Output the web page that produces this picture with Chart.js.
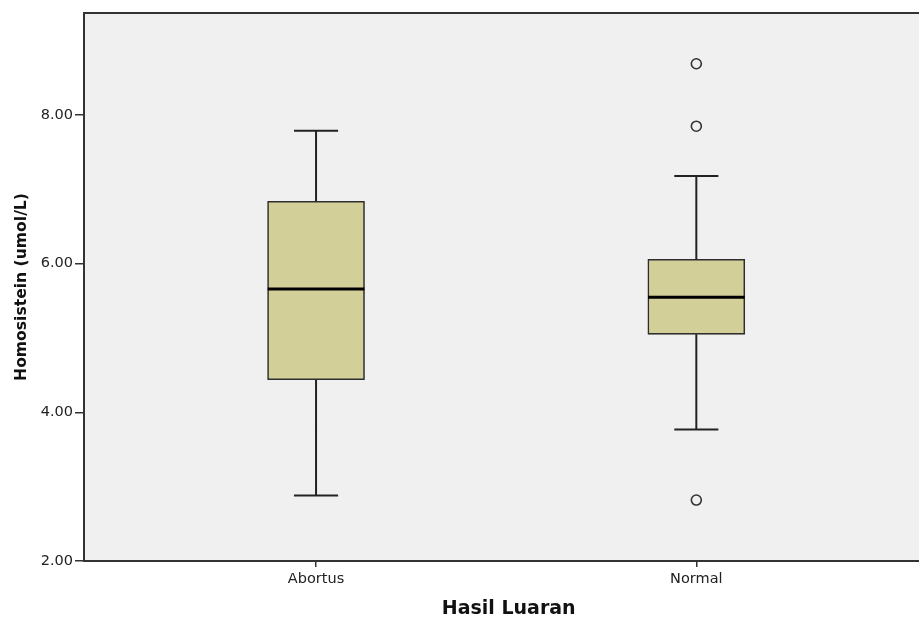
<!DOCTYPE html>
<html>
<head>
<meta charset="utf-8">
<script src="https://cdn.jsdelivr.net/npm/chart.js@4.4.0/dist/chart.umd.min.js"></script>
<style>
  html, body { margin: 0; padding: 0; background: #ffffff; overflow: hidden; }
  #wrap { width: 919px; height: 619px; overflow: hidden; position: relative; }
  canvas { display: block; }
</style>
</head>
<body>
<div id="wrap"><canvas id="chart" width="940" height="619"></canvas></div>
<script>
// Box plot summary per group (Homosistein, umol/L)
const categories  = ['Abortus', 'Normal'];
const whiskerLow  = [2.88, 3.77];
const q1          = [4.44, 5.05];
const median      = [5.66, 5.55];
const q3          = [6.84, 6.06];
const whiskerHigh = [7.79, 7.18];

// Outliers: group index and value
const outlierGroup  = [1, 1, 1];
const outlierValues = [8.69, 7.85, 2.82];

// Value axis tick labels
const yTicks = [2, 4, 6, 8];

// Drawing constants (in x-axis units, one unit per group)
const BOX_HALF = 0.127;
const CAP_HALF = 0.058;
const X_MIN = -0.6102;
const X_MAX = 1.6234;
const Y_MIN = 2;
const Y_MAX = 9.373;

const boxData = categories.map((_, i) => ({ x: i, y: [q1[i], q3[i]] }));

const whiskerData = [];
categories.forEach((_, i) => {
  whiskerData.push(
    { x: i, y: q3[i] }, { x: i, y: whiskerHigh[i] }, { x: i, y: null },
    { x: i - CAP_HALF, y: whiskerHigh[i] }, { x: i + CAP_HALF, y: whiskerHigh[i] }, { x: i, y: null },
    { x: i, y: q1[i] }, { x: i, y: whiskerLow[i] }, { x: i, y: null },
    { x: i - CAP_HALF, y: whiskerLow[i] }, { x: i + CAP_HALF, y: whiskerLow[i] }, { x: i, y: null }
  );
});

const medianData = [];
categories.forEach((_, i) => {
  medianData.push({ x: i - BOX_HALF, y: median[i] }, { x: i + BOX_HALF, y: median[i] }, { x: i, y: null });
});

const outlierData = outlierValues.map((v, k) => ({ x: outlierGroup[k], y: v }));

// Plot background and frame
const framePlugin = {
  id: 'frame',
  beforeDraw(chart) {
    const { ctx, chartArea: a } = chart;
    ctx.save();
    ctx.fillStyle = '#f0f0f0';
    ctx.fillRect(a.left, a.top, a.right - a.left, a.bottom - a.top);
    ctx.restore();
  },
  afterDraw(chart) {
    const { ctx, chartArea: a } = chart;
    ctx.save();
    ctx.strokeStyle = '#333333';
    ctx.lineWidth = 2;
    ctx.strokeRect(a.left, a.top, a.right - a.left, a.bottom - a.top);
    ctx.restore();
  }
};

new Chart(document.getElementById('chart'), {
  type: 'bar',
  data: {
    datasets: [
      {
        type: 'bar',
        data: boxData,
        backgroundColor: '#d3cf98',
        borderColor: '#2e2e2e',
        borderWidth: 1.6,
        borderSkipped: false,
        barThickness: 97,
        order: 3
      },
      {
        type: 'line',
        data: whiskerData,
        borderColor: '#222222',
        borderWidth: 2,
        pointRadius: 0,
        spanGaps: false,
        fill: false,
        order: 2
      },
      {
        type: 'line',
        data: medianData,
        borderColor: '#000000',
        borderWidth: 3,
        pointRadius: 0,
        spanGaps: false,
        fill: false,
        order: 1
      },
      {
        type: 'scatter',
        data: outlierData,
        pointRadius: 5,
        pointBackgroundColor: 'rgba(0,0,0,0)',
        pointBorderColor: '#333333',
        pointBorderWidth: 1.6,
        order: 0
      }
    ]
  },
  options: {
    responsive: false,
    animation: false,
    devicePixelRatio: 1,
    layout: { padding: { top: 13, right: 5, left: 0, bottom: 0 } },
    plugins: { legend: { display: false }, tooltip: { enabled: false } },
    scales: {
      x: {
        type: 'linear',
        min: X_MIN,
        max: X_MAX,
        offset: false,
        afterBuildTicks(scale) { scale.ticks = categories.map((_, i) => ({ value: i })); },
        afterFit(scale) { scale.height = 58; },
        border: { display: false },
        grid: { offset: false, drawOnChartArea: false, drawTicks: true, tickLength: 6, color: '#333333', lineWidth: 1.5 },
        ticks: {
          padding: 4,
          color: '#222222',
          font: { family: 'DejaVu Sans', size: 14.5 },
          maxRotation: 0,
          callback: (v) => categories[v] ?? ''
        },
        title: {
          display: true,
          text: 'Hasil Luaran',
          color: '#111111',
          font: { family: 'DejaVu Sans', size: 19, weight: 'bold', lineHeight: 1 },
          padding: { top: 0, bottom: 0 }
        }
      },
      y: {
        type: 'linear',
        min: Y_MIN,
        max: Y_MAX,
        afterBuildTicks(scale) { scale.ticks = yTicks.map(v => ({ value: v })); },
        afterFit(scale) { scale.width = 84; },
        border: { display: false },
        grid: { drawOnChartArea: false, drawTicks: true, tickLength: 9, color: '#333333', lineWidth: 1.5 },
        ticks: {
          padding: 2,
          color: '#222222',
          font: { family: 'DejaVu Sans', size: 14.5 },
          callback: (v) => Number(v).toFixed(2)
        },
        title: {
          display: true,
          text: 'Homosistein (umol/L)',
          color: '#111111',
          font: { family: 'DejaVu Sans', size: 15.6, weight: 'bold', lineHeight: 1 },
          padding: { top: 14, bottom: 0 }
        }
      }
    }
  },
  plugins: [framePlugin]
});
</script>
</body>
</html>
